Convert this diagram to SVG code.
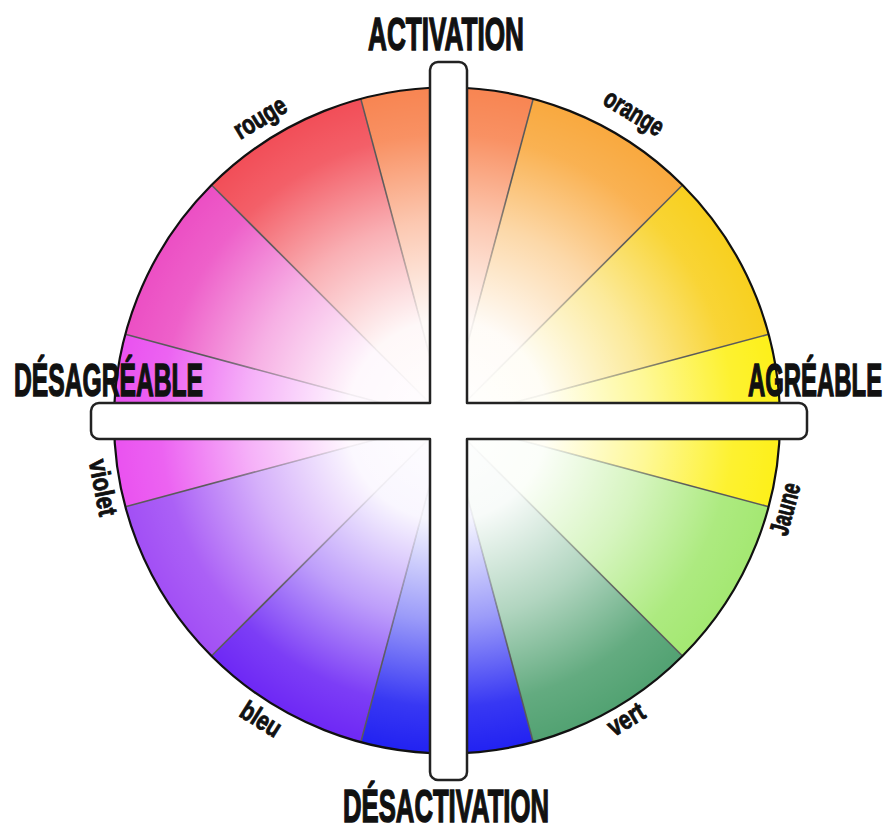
<svg xmlns="http://www.w3.org/2000/svg" width="894" height="832" viewBox="0 0 894 832">
<style>
.big{font-family:"Liberation Sans",Arial,sans-serif;font-weight:bold;font-size:46px;fill:#111;stroke:#111;stroke-width:1.5px;text-anchor:middle}
.lbl{font-family:"Liberation Sans",Arial,sans-serif;font-weight:bold;font-size:27px;fill:#111;stroke:#111;stroke-width:0.9px;text-anchor:middle}
.div{stroke:#5a5a5a;stroke-width:1.6;fill:none}
</style>
<defs>
<radialGradient id="fade" gradientUnits="userSpaceOnUse" cx="447" cy="420.5" r="333">
<stop offset="0" stop-color="#fff" stop-opacity="1"/>
<stop offset="0.3" stop-color="#fff" stop-opacity="0.96"/>
<stop offset="0.6" stop-color="#fff" stop-opacity="0.55"/>
<stop offset="0.86" stop-color="#fff" stop-opacity="0.1"/>
<stop offset="1" stop-color="#fff" stop-opacity="0"/>
</radialGradient>
<radialGradient id="mg" gradientUnits="userSpaceOnUse" cx="447" cy="420.5" r="333">
<stop offset="0" stop-color="#fff" stop-opacity="0"/>
<stop offset="0.3" stop-color="#fff" stop-opacity="0.08"/>
<stop offset="0.5" stop-color="#fff" stop-opacity="0.45"/>
<stop offset="0.75" stop-color="#fff" stop-opacity="1"/>
<stop offset="1" stop-color="#fff" stop-opacity="1"/>
</radialGradient>
<mask id="dm" maskUnits="userSpaceOnUse" x="0" y="0" width="894" height="832">
<rect x="0" y="0" width="894" height="832" fill="url(#mg)"/>
</mask>
</defs>
<g id="wheel">
<path fill="#F88552" d="M447,420.5 L360.8,98.9 A333,333 0 0 1 533.2,98.9 Z"/>
<path fill="#F9A93F" d="M447,420.5 L533.2,98.9 A333,333 0 0 1 682.5,185 Z"/>
<path fill="#F8D01F" d="M447,420.5 L682.5,185 A333,333 0 0 1 768.6,334.3 Z"/>
<path fill="#FDF01A" d="M447,420.5 L768.6,334.3 A333,333 0 0 1 768.6,506.7 Z"/>
<path fill="#A4E872" d="M447,420.5 L768.6,506.7 A333,333 0 0 1 682.5,656 Z"/>
<path fill="#52A272" d="M447,420.5 L682.5,656 A333,333 0 0 1 533.2,742.1 Z"/>
<path fill="#2222F2" d="M447,420.5 L533.2,742.1 A333,333 0 0 1 360.8,742.1 Z"/>
<path fill="#6E28F5" d="M447,420.5 L360.8,742.1 A333,333 0 0 1 211.5,656 Z"/>
<path fill="#A24FF5" d="M447,420.5 L211.5,656 A333,333 0 0 1 125.4,506.7 Z"/>
<path fill="#EA52F0" d="M447,420.5 L125.4,506.7 A333,333 0 0 1 125.4,334.3 Z"/>
<path fill="#EC4FC4" d="M447,420.5 L125.4,334.3 A333,333 0 0 1 211.5,185 Z"/>
<path fill="#F24E58" d="M447,420.5 L211.5,185 A333,333 0 0 1 360.8,98.9 Z"/>
<circle cx="447" cy="420.5" r="333" fill="url(#fade)"/>
</g>
<g id="connectors" mask="url(#dm)">
<line class="div" x1="447" y1="420.5" x2="533.2" y2="98.9"/>
<line class="div" x1="447" y1="420.5" x2="682.5" y2="185"/>
<line class="div" x1="447" y1="420.5" x2="768.6" y2="334.3"/>
<line class="div" x1="447" y1="420.5" x2="768.6" y2="506.7"/>
<line class="div" x1="447" y1="420.5" x2="682.5" y2="656"/>
<line class="div" x1="447" y1="420.5" x2="533.2" y2="742.1"/>
<line class="div" x1="447" y1="420.5" x2="360.8" y2="742.1"/>
<line class="div" x1="447" y1="420.5" x2="211.5" y2="656"/>
<line class="div" x1="447" y1="420.5" x2="125.4" y2="506.7"/>
<line class="div" x1="447" y1="420.5" x2="125.4" y2="334.3"/>
<line class="div" x1="447" y1="420.5" x2="211.5" y2="185"/>
<line class="div" x1="447" y1="420.5" x2="360.8" y2="98.9"/>
</g>
<circle id="rim" cx="447" cy="420.5" r="333" fill="none" stroke="#111" stroke-width="2.2"/>
<g id="axes">
<path fill="#fff" stroke="#222" stroke-width="2.5" stroke-linejoin="round" d="M438,62 H459 A8,8 0 0 1 467,70 V403 H799 A8,8 0 0 1 807,411 V431 A8,8 0 0 1 799,439 H467 V772 A8,8 0 0 1 459,780 H438 A8,8 0 0 1 430,772 V439 H99 A8,8 0 0 1 91,431 V411 A8,8 0 0 1 99,403 H430 V70 A8,8 0 0 1 438,62 Z"/>
</g>
<g id="activation"><text class="big" x="446" y="50" textLength="156" lengthAdjust="spacingAndGlyphs">ACTIVATION</text></g>
<g id="desactivation"><text class="big" x="446" y="822" textLength="206" lengthAdjust="spacingAndGlyphs">DÉSACTIVATION</text></g>
<g id="desagreable"><text class="big" x="108.5" y="396" textLength="189" lengthAdjust="spacingAndGlyphs">DÉSAGRÉABLE</text></g>
<g id="agreable"><text class="big" transform="translate(815,396) scale(0.52,1)" x="0" y="0">AGRÉABLE</text></g>
<g id="rouge"><text class="lbl" transform="translate(262,121) rotate(-31)" y="5" textLength="57" lengthAdjust="spacingAndGlyphs">rouge</text></g>
<g id="orange"><text class="lbl" transform="translate(632,116) rotate(31)" y="5" textLength="65" lengthAdjust="spacingAndGlyphs">orange</text></g>
<g id="jaune"><text class="lbl" transform="translate(789,510) rotate(-75)" y="5" textLength="53" lengthAdjust="spacingAndGlyphs">Jaune</text></g>
<g id="vert"><text class="lbl" transform="translate(627,721) rotate(-31)" y="7" textLength="39" lengthAdjust="spacingAndGlyphs">vert</text></g>
<g id="bleu"><text class="lbl" transform="translate(260,721) rotate(32)" y="7" textLength="43" lengthAdjust="spacingAndGlyphs">bleu</text></g>
<g id="violet"><text class="lbl" transform="translate(101,488) rotate(79)" y="7" textLength="57" lengthAdjust="spacingAndGlyphs">violet</text></g>
</svg>
